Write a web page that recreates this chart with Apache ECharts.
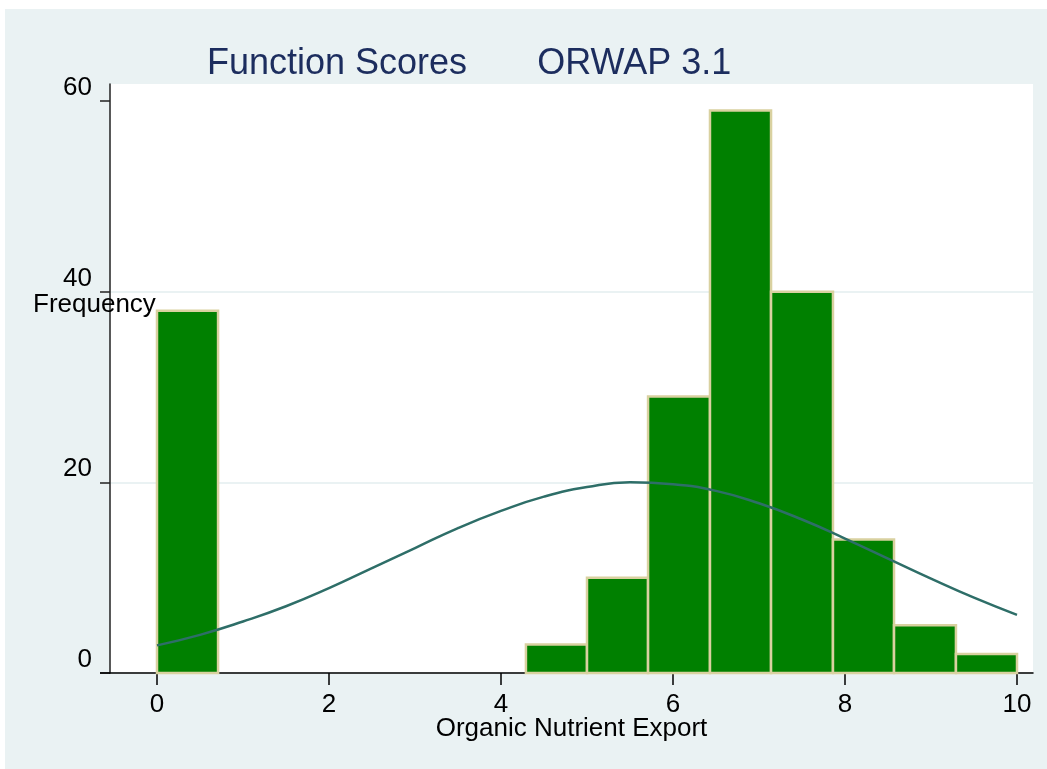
<!DOCTYPE html>
<html>
<head>
<meta charset="utf-8">
<script src="https://cdn.jsdelivr.net/npm/echarts@6/dist/echarts.min.js"></script>
<style>
  html, body { margin: 0; padding: 0; background: #fff; }
  #bg { position: absolute; left: 5px; top: 9px; right: 0; bottom: 0; background: #eaf2f3; }
  #chart { position: absolute; left: 0; top: 0; width: 1047px; height: 769px; }
</style>
</head>
<body>
<div id="bg"></div>
<div id="chart"></div>
<script>
// histogram bins (score range) and counts
var binLeft  = [0, 4.29, 5.00, 5.71, 6.43, 7.14, 7.86, 8.57, 9.29];
var binRight = [0.71, 5.00, 5.71, 6.43, 7.14, 7.86, 8.57, 9.29, 10];
var counts   = [38, 3, 10, 29, 59, 40, 14, 5, 2];

// normal curve
var curveX = [0, 0.5, 1, 1.5, 2, 2.5, 3, 3.5, 4, 4.5, 5, 5.5, 6, 6.5, 7, 7.5, 8, 8.5, 9, 9.5, 10];
var curveY = [2.9, 4.0, 5.4, 7.0, 8.9, 11.0, 13.1, 15.2, 17.0, 18.5, 19.5, 20.0, 19.8, 19.1, 17.8, 16.1, 14.1, 12.0, 9.9, 7.9, 6.1];

var xTicks = [0, 2, 4, 6, 8, 10];
var yTicks = [0, 20, 40, 60];

var font = 'Liberation Sans, Arial, sans-serif';

var barData = [];
for (var i = 0; i < counts.length; i++) {
    barData.push([binLeft[i], binRight[i], counts[i]]);
}
var lineData = [];
for (var j = 0; j < curveX.length; j++) {
    lineData.push([curveX[j], curveY[j]]);
}

var myChart = echarts.init(document.getElementById('chart'));
var option = {
    backgroundColor: 'transparent',
    animation: false,
    title: {
        text: 'Function Scores       ORWAP 3.1',
        left: 202,
        top: 41,
        textStyle: { fontFamily: font, fontSize: 36, fontWeight: 'normal', color: '#1c2d5e' }
    },
    grid: {
        left: 110, right: 14, top: 84, bottom: 96,
        show: true, backgroundColor: '#fff', borderWidth: 0
    },
    xAxis: {
        type: 'value',
        min: -0.5465,
        max: 10.186,
        name: 'Organic Nutrient Export',
        nameLocation: 'middle',
        nameGap: 43,
        nameMoveOverlap: false,
        nameTextStyle: { fontFamily: font, fontSize: 26, color: '#000' },
        axisLine: { onZero: false, lineStyle: { color: '#000', width: 1.5 } },
        axisTick: { length: 12, customValues: xTicks, lineStyle: { color: '#000', width: 1.5 } },
        axisLabel: { customValues: xTicks, margin: 19, fontFamily: font, fontSize: 26, color: '#000' },
        splitLine: { show: false }
    },
    yAxis: {
        type: 'value',
        min: 0,
        max: 61.78,
        interval: 20,
        axisLine: { show: true, onZero: false, lineStyle: { color: '#222', width: 1.5 } },
        axisTick: { show: true, length: 10, customValues: yTicks, lineStyle: { color: '#222', width: 1.5 } },
        axisLabel: {
            customValues: yTicks,
            margin: 18,
            verticalAlign: 'bottom',
            fontFamily: font, fontSize: 26, color: '#000',
            formatter: function (v) { return v % 20 === 0 ? String(v) : ''; }
        },
        splitLine: { show: true, showMaxLine: false, lineStyle: { color: '#eaf2f3', width: 2 } }
    },
    graphic: [
        {
            type: 'text', left: 33, top: 292, z: 100,
            style: { text: 'Frequency', fontFamily: font, fontSize: 26, fill: '#000' }
        },
        {
            type: 'line', z: 100,
            shape: { x1: 100, y1: 673, x2: 110, y2: 673 },
            style: { stroke: '#000', lineWidth: 1.5 }
        }
    ],
    series: [
        {
            type: 'custom',
            data: barData,
            renderItem: function (params, api) {
                var p0 = api.coord([api.value(0), api.value(2)]);
                var p1 = api.coord([api.value(1), 0]);
                return {
                    type: 'rect',
                    shape: { x: p0[0], y: p0[1], width: p1[0] - p0[0], height: p1[1] - p0[1] },
                    style: { fill: '#008000', stroke: '#d9d1a0', lineWidth: 2.5 }
                };
            },
            z: 2
        },
        {
            type: 'line',
            data: lineData,
            smooth: true,
            symbol: 'none',
            lineStyle: { color: '#2e6e68', width: 2.5 },
            z: 3
        }
    ]
};
myChart.setOption(option);

window.onresize = function () {
    myChart.resize();
};
</script>
</body>
</html>
